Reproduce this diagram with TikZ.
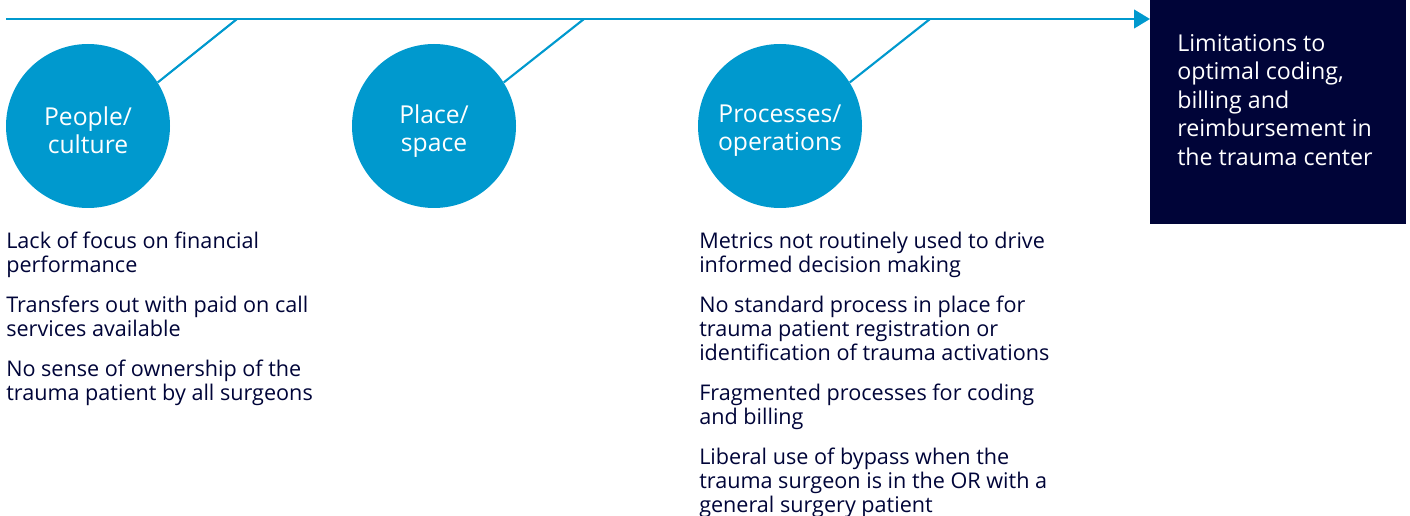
\documentclass[tikz,border=0pt]{standalone}
\usepackage{fontspec}
\setmainfont{Open Sans}
\usetikzlibrary{arrows.meta,positioning}
\definecolor{phblue}{RGB}{0,153,206}
\definecolor{phnavy}{RGB}{0,4,56}

\begin{document}
\begin{tikzpicture}[
  x=0.75pt, y=0.75pt,
  factor/.style={
    circle,
    fill=phblue,
    minimum size=123pt,
    inner sep=0pt,
    label={[factortext]center:#1}
  },
  factortext/.style={
    text=white,
    align=center,
    yshift=-3.5pt,
    font=\fontsize{18.5}{21}\selectfont
  },
  items/.style={
    anchor=north west,
    inner sep=0pt,
    align=left,
    text=phnavy,
    font=\fontsize{16.2}{18}\selectfont
  },
  link/.style={draw=phblue, line width=1.6pt},
  arrow/.style={link, -{Triangle[length=12pt, width=14pt]}}
]
\useasboundingbox (0,0) rectangle (1410,-516);

% outcome box on the right
\node[fill=phnavy, anchor=north west, minimum width=192pt, minimum height=168pt,
  inner sep=0pt] (goal) at (1150,0) {};
\node[anchor=north west, inner sep=0pt, align=left, text=white,
  font=\fontsize{17.4}{21.4}\selectfont] (goaltxt) at (1177,-34)
  {Limitations to\\optimal coding,\\billing and\\reimbursement in\\the trauma center};

% main timeline
\coordinate (start) at (6,-19);
\draw[arrow] (start) -- (goal.west |- start);

% the three factors
\node[factor={People/\\culture}] (people) at (88,-126) {};
\node[factor={Place/\\space}] (place) at (434,-126) {};
\node[factor={Processes/\\operations}] (process) at (780,-126) {};

\coordinate (t1) at (237,-19);
\coordinate (t2) at (584,-19);
\coordinate (t3) at (930,-19);
\draw[link] (people.32) -- (t1);
\draw[link] (place.32) -- (t2);
\draw[link] (process.32) -- (t3);

% causes listed under the factors
\node[items] (peoplelist) at (6,-232)
  {Lack of focus on financial\\performance\\[12pt]
   Transfers out with paid on call\\services available\\[12pt]
   No sense of ownership of the\\trauma patient by all surgeons};
\node[items] (processlist) at (699,-232)
  {Metrics not routinely used to drive\\informed decision making\\[12pt]
   No standard process in place for\\trauma patient registration or\\identification of trauma activations\\[12pt]
   Fragmented processes for coding\\and billing\\[12pt]
   Liberal use of bypass when the\\trauma surgeon is in the OR with a\\general surgery patient};
\end{tikzpicture}
\end{document}
